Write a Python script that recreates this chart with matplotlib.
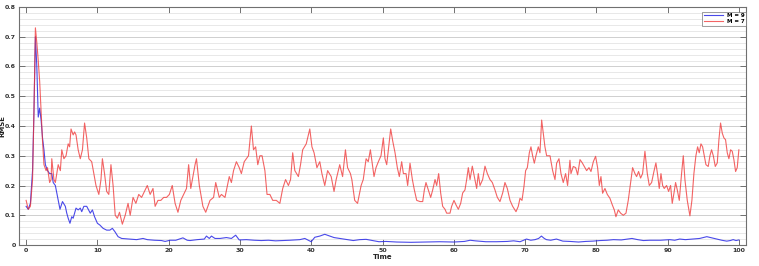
import matplotlib
matplotlib.use("Agg")
import matplotlib.pyplot as plt
from matplotlib.ticker import MultipleLocator, FuncFormatter

# ---- data ----
t_m7 = [0.0, 0.3, 0.6, 0.9, 1.1, 1.3, 1.5, 1.7, 1.9, 2.1, 2.3, 2.5, 2.8, 3.0, 3.3, 3.5, 3.6, 3.9,
        4.1, 4.5, 4.8, 5.0, 5.3, 5.6, 5.9, 6.1, 6.3, 6.6, 6.8, 7.0, 7.3, 7.6, 7.9, 8.2, 8.5, 8.8,
        9.2, 9.5, 9.8, 10.2, 10.5, 10.7, 11.0, 11.3, 11.6, 11.9, 12.2, 12.5, 12.8, 13.1, 13.5,
        13.9, 14.3, 14.6, 15.0, 15.4, 15.8, 16.2, 16.6, 17.0, 17.4, 17.8, 18.1, 18.5, 18.9, 19.3,
        19.7, 20.1, 20.5, 20.9, 21.3, 21.7, 22.1, 22.5, 22.8, 23.1, 23.7, 23.9, 24.3, 24.8, 25.2,
        25.8, 26.3, 26.6, 27.1, 27.4, 27.9, 28.5, 28.8, 29.1, 29.5, 29.9, 30.2, 30.6, 30.9, 31.2,
        31.6, 31.9, 32.2, 32.5, 32.8, 33.1, 33.5, 33.8, 34.2, 34.6, 35.1, 35.6, 36.0, 36.4, 36.8,
        37.1, 37.4, 37.7, 38.2, 38.5, 38.8, 39.3, 39.8, 40.1, 40.4, 40.8, 41.2, 41.5, 41.9, 42.3,
        42.8, 43.2, 43.5, 44.0, 44.4, 44.8, 45.1, 45.5, 45.7, 46.1, 46.5, 47.0, 47.3, 47.7, 48.0,
        48.3, 48.81, 49.09, 49.42, 49.79, 50.12, 50.35, 50.59, 50.82, 51.15, 51.43, 51.76, 52.08,
        52.36, 52.69, 52.93, 53.30, 53.53, 53.86, 54.19, 54.47, 54.80, 55.26, 55.64, 55.87, 56.10,
        56.43, 56.76, 57.04, 57.37, 57.60, 57.88, 58.16, 58.44, 58.77, 59.00, 59.47, 59.70, 60.03,
        60.31, 60.64, 60.97, 61.25, 61.57, 61.81, 62.04, 62.28, 62.60, 62.88, 63.21, 63.44, 63.68,
        64.05, 64.38, 64.71, 65.08, 65.41, 65.78, 66.11, 66.48, 66.86, 67.18, 67.51, 67.89, 68.26,
        68.73, 69.05, 69.29, 69.57, 69.85, 70.08, 70.32, 70.60, 70.83, 71.06, 71.30, 71.53, 71.86,
        72.09, 72.33, 72.56, 72.79, 73.03, 73.50, 73.87, 74.20, 74.43, 74.76, 75.04, 75.36, 75.69,
        75.97, 76.30, 76.44, 76.77, 77.10, 77.38, 77.71, 78.03, 78.31, 78.64, 78.97, 79.25, 79.58,
        79.90, 80.18, 80.42, 80.65, 80.88, 81.21, 81.54, 81.91, 82.24, 82.52, 82.75, 83.08, 83.41,
        83.78, 84.16, 84.48, 84.81, 85.09, 85.42, 85.65, 85.93, 86.21, 86.49, 86.82, 87.15, 87.43,
        87.76, 88.08, 88.36, 88.60, 88.83, 89.07, 89.30, 89.53, 89.86, 90.14, 90.42, 90.65, 90.89,
        91.12, 91.36, 91.64, 91.96, 92.20, 92.43, 92.76, 93.13, 93.41, 93.69, 93.97, 94.21, 94.44,
        94.68, 94.91, 95.14, 95.38, 95.70, 95.94, 96.17, 96.41, 96.69, 96.97, 97.20, 97.43, 97.67,
        97.90, 98.13, 98.37, 98.60, 98.84, 99.07, 99.30, 99.54, 99.77, 100.0]
rmse_m7 = [0.15, 0.12, 0.13, 0.22, 0.45, 0.73, 0.68, 0.62, 0.55, 0.45, 0.35, 0.27, 0.25, 0.26, 0.21,
           0.22, 0.29, 0.22, 0.21, 0.27, 0.25, 0.32, 0.29, 0.30, 0.34, 0.33, 0.39, 0.37, 0.38, 0.37,
           0.32, 0.29, 0.32, 0.41, 0.36, 0.29, 0.28, 0.24, 0.20, 0.17, 0.22, 0.29, 0.24, 0.18, 0.17,
           0.27, 0.20, 0.10, 0.09, 0.11, 0.07, 0.10, 0.14, 0.10, 0.16, 0.14, 0.17, 0.16, 0.18, 0.20,
           0.17, 0.19, 0.13, 0.15, 0.15, 0.16, 0.16, 0.17, 0.20, 0.14, 0.11, 0.15, 0.17, 0.19, 0.27,
           0.19, 0.27, 0.29, 0.20, 0.13, 0.11, 0.15, 0.16, 0.21, 0.16, 0.17, 0.16, 0.23, 0.21, 0.25,
           0.28, 0.26, 0.24, 0.28, 0.29, 0.30, 0.40, 0.32, 0.33, 0.27, 0.30, 0.30, 0.25, 0.17, 0.17,
           0.15, 0.15, 0.14, 0.19, 0.22, 0.20, 0.22, 0.31, 0.25, 0.23, 0.27, 0.32, 0.34, 0.39, 0.33,
           0.31, 0.26, 0.28, 0.24, 0.20, 0.25, 0.23, 0.18, 0.22, 0.27, 0.23, 0.32, 0.26, 0.24, 0.22,
           0.15, 0.14, 0.20, 0.22, 0.29, 0.28, 0.32, 0.23, 0.26, 0.28, 0.30, 0.36, 0.29, 0.27, 0.32,
           0.39, 0.35, 0.31, 0.26, 0.23, 0.28, 0.24, 0.24, 0.20, 0.275, 0.22, 0.185, 0.15, 0.146,
           0.146, 0.185, 0.21, 0.185, 0.16, 0.185, 0.22, 0.20, 0.24, 0.175, 0.13, 0.12, 0.107, 0.107,
           0.13, 0.15, 0.135, 0.12, 0.14, 0.175, 0.185, 0.22, 0.26, 0.22, 0.265, 0.23, 0.19, 0.24,
           0.20, 0.22, 0.265, 0.24, 0.22, 0.21, 0.185, 0.16, 0.146, 0.175, 0.21, 0.19, 0.15, 0.13,
           0.112, 0.13, 0.157, 0.15, 0.197, 0.25, 0.26, 0.31, 0.33, 0.30, 0.275, 0.30, 0.33, 0.31,
           0.42, 0.376, 0.33, 0.30, 0.30, 0.25, 0.22, 0.275, 0.29, 0.24, 0.21, 0.24, 0.20, 0.285,
           0.24, 0.264, 0.26, 0.236, 0.287, 0.276, 0.264, 0.25, 0.26, 0.247, 0.28, 0.298, 0.26, 0.20,
           0.23, 0.174, 0.19, 0.17, 0.157, 0.135, 0.118, 0.095, 0.118, 0.107, 0.10, 0.107, 0.15, 0.21,
           0.26, 0.24, 0.23, 0.247, 0.225, 0.24, 0.315, 0.24, 0.20, 0.21, 0.247, 0.276, 0.236, 0.19,
           0.24, 0.20, 0.19, 0.20, 0.18, 0.20, 0.14, 0.174, 0.21, 0.185, 0.15, 0.24, 0.30, 0.22, 0.15,
           0.098, 0.15, 0.24, 0.30, 0.33, 0.31, 0.34, 0.33, 0.30, 0.27, 0.264, 0.30, 0.32, 0.30, 0.264,
           0.276, 0.354, 0.41, 0.376, 0.36, 0.354, 0.31, 0.29, 0.32, 0.315, 0.287, 0.247, 0.26, 0.32]

t_m9 = [0.0, 0.3, 0.6, 0.9, 1.1, 1.3, 1.5, 1.7, 1.9, 2.1, 2.3, 2.5, 2.7, 3.0, 3.3, 3.6, 3.8, 4.1,
        4.5, 4.75, 5.1, 5.5, 5.7, 5.9, 6.15, 6.4, 6.6, 7.0, 7.3, 7.6, 7.8, 8.1, 8.5, 9.0, 9.3, 9.6,
        10.0, 10.35, 10.8, 11.3, 11.75, 12.1, 12.45, 12.9, 13.4, 14.5, 15.5, 16.4, 17.0, 18.0, 19.0,
        19.5, 20.2, 21.0, 22.0, 22.6, 23.0, 24.0, 25.0, 25.3, 25.7, 26.0, 26.5, 27.2, 28.1, 28.8,
        29.4, 29.9, 30.9, 32.0, 33.0, 34.0, 35.0, 36.0, 37.0, 38.4, 39.1, 40.0, 40.5, 41.2, 41.9,
        42.6, 43.2, 44.0, 45.0, 45.9, 46.8, 47.7, 48.6, 49.5, 50.5, 52.0, 54.0, 56.0, 58.0, 60.0,
        61.5, 62.3, 63.0, 64.5, 66.0, 67.5, 68.4, 69.3, 70.2, 70.8, 71.4, 71.9, 72.3, 72.7, 73.0,
        73.6, 74.4, 75.3, 76.3, 77.5, 78.5, 79.5, 80.5, 81.5, 82.4, 83.5, 85.0, 85.8, 86.6, 87.5,
        89.0, 90.3, 91.0, 91.7, 92.5, 93.6, 94.5, 95.5, 96.2, 96.9, 97.6, 98.3, 98.8, 99.2, 99.6,
        100.0]
rmse_m9 = [0.13, 0.12, 0.14, 0.25, 0.45, 0.70, 0.60, 0.43, 0.46, 0.42, 0.36, 0.32, 0.27, 0.25,
           0.24, 0.24, 0.21, 0.20, 0.15, 0.12, 0.146, 0.13, 0.107, 0.09, 0.073, 0.095, 0.09, 0.124,
           0.118, 0.124, 0.112, 0.13, 0.13, 0.107, 0.118, 0.095, 0.073, 0.067, 0.056, 0.05, 0.05,
           0.056, 0.045, 0.028, 0.022, 0.02, 0.018, 0.022, 0.018, 0.016, 0.015, 0.012, 0.016, 0.016,
           0.024, 0.016, 0.015, 0.018, 0.02, 0.03, 0.022, 0.03, 0.022, 0.022, 0.025, 0.022, 0.033,
           0.017, 0.018, 0.016, 0.015, 0.016, 0.014, 0.015, 0.016, 0.018, 0.022, 0.011, 0.026, 0.03,
           0.036, 0.03, 0.025, 0.022, 0.018, 0.015, 0.018, 0.019, 0.015, 0.011, 0.012, 0.010, 0.009,
           0.010, 0.011, 0.010, 0.012, 0.016, 0.014, 0.011, 0.011, 0.012, 0.014, 0.011, 0.02, 0.016,
           0.018, 0.022, 0.03, 0.022, 0.018, 0.016, 0.02, 0.013, 0.012, 0.010, 0.012, 0.013, 0.015,
           0.016, 0.018, 0.017, 0.022, 0.018, 0.015, 0.016, 0.016, 0.018, 0.016, 0.02, 0.018, 0.02,
           0.022, 0.028, 0.024, 0.02, 0.016, 0.013, 0.015, 0.018, 0.015, 0.017]

labels = ["M = 9", "M = 7"]
x_label = "Time"
y_label = "RMSE"

# ---- figure ----
W, H = 759, 266
fig = plt.figure(figsize=(W / 100, H / 100), dpi=100)
ax = fig.add_axes([19 / W, 21 / H, 727 / W, 238 / H])

ax.plot(t_m9, rmse_m9, color="#2a2ae6", lw=0.8, alpha=0.85, label=labels[0], zorder=3)
ax.plot(t_m7, rmse_m7, color="#f03030", lw=0.8, alpha=0.75, label=labels[1], zorder=4)

ax.set_xlim(-1, 101)
ax.set_ylim(0, 0.8)
ax.xaxis.set_major_locator(MultipleLocator(10))
ax.yaxis.set_major_locator(MultipleLocator(0.1))
ax.yaxis.set_minor_locator(MultipleLocator(0.02))
ax.yaxis.set_major_formatter(FuncFormatter(lambda v, p: "0" if abs(v) < 1e-9 else f"{v:.1f}"))

ax.grid(True, axis="y", which="major", color="#cfcfcf", lw=0.7)
ax.grid(True, axis="y", which="minor", color="#e4e4e4", lw=0.6)
ax.set_axisbelow(True)

for s in ax.spines.values():
    s.set_color("#707070")
    s.set_linewidth(0.8)

ax.tick_params(axis="both", which="major", direction="in", length=4, width=0.7,
               color="#707070", labelsize=4.5, labelcolor="#333333", pad=2,
               top=True, right=True)
ax.tick_params(axis="both", which="minor", length=0, top=False, right=False)
for lab in ax.get_xticklabels() + ax.get_yticklabels():
    lab.set_fontweight("bold")

ax.set_xlabel(x_label, fontsize=5, fontweight="bold", color="#222222", labelpad=1)
ax.set_ylabel(y_label, fontsize=5, fontweight="bold", color="#222222")
ax.yaxis.set_label_coords(-0.019, 0.5)

leg = ax.legend(loc="upper right", bbox_to_anchor=(1.0, 0.98), borderaxespad=0,
                frameon=True, fancybox=False, handlelength=3.5,
                handletextpad=0.6, borderpad=0.3, labelspacing=0.1,
                prop={"size": 4, "weight": "bold"})
leg.get_frame().set_edgecolor("#707070")
leg.get_frame().set_linewidth(0.6)

fig.savefig("out.png", dpi=100)
